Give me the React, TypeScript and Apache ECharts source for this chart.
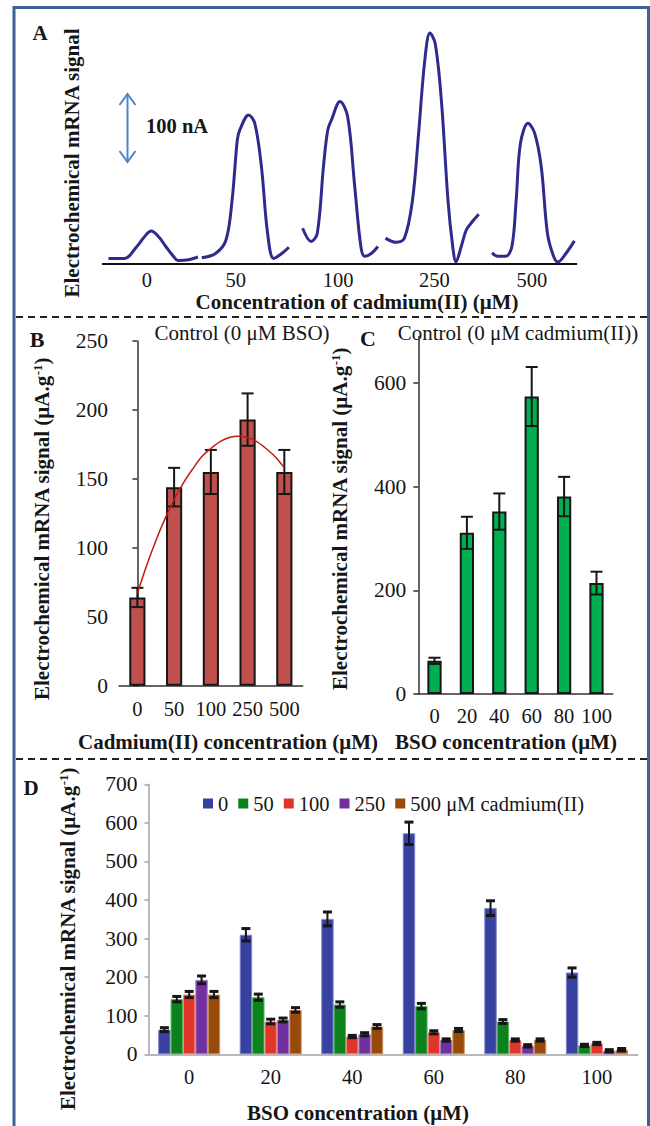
import React, { useEffect, useRef } from "react";
import * as echarts from "echarts";

const FONT = "'Liberation Serif', 'Times New Roman', Times, serif";
const INK = "#161616";

// ---------- Panel A: voltammetric peaks (x: potential, arbitrary 0-100; y: nA) ----------
const aCategories = ["0", "50", "100", "250", "500"];
const aLabelPositions = [9.3, 28.1, 49.7, 70.0, 90.6];
const aSeg0 = [[1.2, 7], [4.6, 7], [7.2, 24], [8.8, 38], [10.2, 46], [11.8, 38], [13.3, 24], [14.9, 10], [15.9, 4], [18.1, 5], [20.1, 9]];
const aSeg50 = [[20.9, 8], [23.8, 14], [26.0, 33], [27.3, 90], [28.4, 176], [28.9, 190], [30.8, 212], [32.1, 200], [33.5, 138], [34.8, 43], [36.1, 7], [37.8, 14], [39.3, 23]];
const aSeg100 = [[42.2, 50], [44.0, 31], [45.3, 43], [46.6, 138], [47.5, 190], [48.3, 205], [50.1, 231], [51.7, 210], [53.2, 110], [54.5, 24], [55.3, 10], [56.7, 14], [58.1, 24]];
const aSeg250 = [[59.7, 36], [61.9, 30], [63.7, 36], [65.4, 90], [66.7, 186], [68.0, 290], [69.1, 329], [70.2, 314], [71.5, 233], [72.9, 90], [73.9, 24], [74.6, 2], [75.7, 24], [76.8, 48], [78.1, 60], [79.4, 70]];
const aSeg500 = [[82.2, 15], [83.4, 10], [85.1, 10], [86.4, 24], [87.3, 90], [88.2, 171], [89.8, 200], [91.2, 186], [92.6, 138], [93.9, 43], [95.2, 10], [96.1, 2], [97.8, 14], [99.6, 32]];

// ---------- Panel B ----------
const bCategories = ["0", "50", "100", "250", "500"];
const bValues = [64, 144, 155, 193, 155];
const bErrors = [7, 14, 16, 19, 16];
const bTrendX = [0, 0.25, 0.5, 0.75, 1, 1.25, 1.5, 1.75, 2, 2.25, 2.5, 2.75, 3, 3.25, 3.5, 3.75, 4];
const bTrendY = [67, 87, 105, 121, 135, 147, 157, 166, 172, 177, 180, 181, 180, 177, 172, 166, 158];

// ---------- Panel C ----------
const cCategories = ["0", "20", "40", "60", "80", "100"];
const cValues = [64, 311, 352, 574, 381, 214];
const cErrors = [6, 31, 35, 57, 38, 22];
const cTicks = [0, 200, 400, 600];

// ---------- Panel D ----------
const dCategories = ["0", "20", "40", "60", "80", "100"];
const dSeriesNames = ["0", "50", "100", "250", "500 μM cadmium(II)"];
const dCd0 = [64, 310, 351, 573, 379, 212];
const dCd0Err = [5, 16, 18, 29, 19, 12];
const dCd50 = [143, 148, 129, 125, 85, 23];
const dCd50Err = [7, 8, 7, 7, 5, 3];
const dCd100 = [155, 85, 46, 57, 37, 28];
const dCd100Err = [8, 6, 3, 4, 3, 3];
const dCd250 = [193, 89, 52, 37, 22, 9];
const dCd250Err = [10, 5, 4, 3, 3, 3];
const dCd500 = [155, 115, 72, 63, 37, 12];
const dCd500Err = [8, 6, 5, 4, 3, 3];

const dColors = ["#3641a0", "#0b821b", "#e0362a", "#7030a0", "#974a0a"];
const dBorders = ["#7c83c8", "#5cae66", "#f08a80", "#a57cc6", "#c8915e"];

function errorBars(xAxisIndex: number, yAxisIndex: number, values: number[], errs: number[], slot: number, nSlots: number, groupFrac: number, capW: number, capLW: number, stemLW: number) {
  return {
    type: "custom",
    xAxisIndex,
    yAxisIndex,
    z: 10,
    silent: true,
    encode: { x: 0, y: [1, 2] },
    data: values.map((v, i) => [i, v - errs[i], v + errs[i]]),
    renderItem: (params: any, api: any) => {
      const i = api.value(0);
      const lo = api.coord([i, api.value(1)]);
      const hi = api.coord([i, api.value(2)]);
      const band = api.size([1, 0])[0];
      const bw = (band * groupFrac) / nSlots;
      const cx = lo[0] + (slot - (nSlots - 1) / 2) * bw;
      const st = { stroke: INK, lineWidth: stemLW };
      const cs = { stroke: INK, lineWidth: capLW };
      return {
        type: "group",
        children: [
          { type: "line", shape: { x1: cx, y1: lo[1], x2: cx, y2: hi[1] }, style: st },
          { type: "line", shape: { x1: cx - capW / 2, y1: lo[1], x2: cx + capW / 2, y2: lo[1] }, style: cs },
          { type: "line", shape: { x1: cx - capW / 2, y1: hi[1], x2: cx + capW / 2, y2: hi[1] }, style: cs },
        ],
      };
    },
  };
}

const tickLabel = { fontFamily: FONT, fontSize: 20.5, color: INK };
const yTickLabel = { fontFamily: FONT, fontSize: 21.5, color: INK };
const TITLE = `bold 21px ${FONT}`;

export default function App() {
  const ref = useRef<HTMLDivElement>(null);

  useEffect(() => {
    if (!ref.current) return;
    const chart = echarts.init(ref.current, undefined, { renderer: "svg" });

    const aSegs = [aSeg0, aSeg50, aSeg100, aSeg250, aSeg500];
    const dVals = [dCd0, dCd50, dCd100, dCd250, dCd500];
    const dErrs = [dCd0Err, dCd50Err, dCd100Err, dCd250Err, dCd500Err];

    const yTitleRich = {
      sup: { fontSize: 13, fontWeight: "bold", fontFamily: FONT, fill: INK, padding: [0, 0, 10, 0] },
    };

    const option: any = {
      animation: false,
      backgroundColor: "#ffffff",
      grid: [
        { left: 102.8, top: 25.3, width: 473.5, height: 238, outerBoundsMode: "none" },
        { left: 119, top: 341, width: 183.7, height: 344.7, outerBoundsMode: "none" },
        { left: 418.3, top: 336.4, width: 194.4, height: 357.6, outerBoundsMode: "none" },
        { left: 148.4, top: 784.3, width: 489.2, height: 270, outerBoundsMode: "none" },
      ],
      legend: {
        data: dSeriesNames,
        left: 203,
        top: 793,
        padding: 0,
        itemWidth: 10,
        itemHeight: 10,
        itemGap: 10,
        icon: "rect",
        itemStyle: { borderWidth: 0 },
        textStyle: { fontFamily: FONT, fontSize: 20.5, color: INK, padding: [2, 0, 0, 0] },
      },
      xAxis: [
        {
          gridIndex: 0, type: "value", min: 0, max: 100,
          axisLine: { show: true, lineStyle: { color: "#111", width: 2 } },
          axisTick: { show: false },
          splitLine: { show: false },
          axisLabel: {
            ...tickLabel, margin: 6,
            customValues: aLabelPositions,
            formatter: (v: number) => {
              const k = aLabelPositions.indexOf(v);
              return k >= 0 ? aCategories[k] : "";
            },
          },
        },
        {
          gridIndex: 1, type: "category", data: bCategories,
          axisLine: { lineStyle: { color: "#333", width: 1.5 } },
          axisTick: { length: 5, lineStyle: { color: "#333", width: 1.5 } },
          axisLabel: { ...tickLabel, margin: 13, interval: 0 },
        },
        { gridIndex: 1, type: "value", min: -0.5, max: 4.5, show: false },
        {
          gridIndex: 2, type: "category", data: cCategories,
          axisLine: { lineStyle: { color: "#333", width: 1.5 } },
          axisTick: { length: 5, lineStyle: { color: "#333", width: 1.5 } },
          axisLabel: { ...tickLabel, margin: 11, interval: 0 },
        },
        {
          gridIndex: 3, type: "category", data: dCategories,
          axisLine: { lineStyle: { color: "#a3a3a3", width: 1.5 } },
          axisTick: { length: 6, lineStyle: { color: "#a3a3a3", width: 1.5 } },
          axisLabel: { ...tickLabel, margin: 12, interval: 0 },
        },
      ],
      yAxis: [
        { gridIndex: 0, type: "value", min: 0, max: 340, show: false },
        {
          gridIndex: 1, type: "value", min: 0, max: 250, interval: 50,
          axisLine: { show: true, lineStyle: { color: "#333", width: 1.5 } },
          axisTick: { show: true, length: 5, lineStyle: { color: "#333", width: 1.5 } },
          splitLine: { show: false },
          axisLabel: { ...yTickLabel, margin: 11 },
        },
        {
          gridIndex: 2, type: "value", min: 0, max: 690,
          axisLine: { show: true, lineStyle: { color: "#333", width: 1.5 } },
          axisTick: { show: true, length: 5, customValues: cTicks, lineStyle: { color: "#333", width: 1.5 } },
          splitLine: { show: false },
          axisLabel: { ...yTickLabel, margin: 12, customValues: cTicks },
        },
        {
          gridIndex: 3, type: "value", min: 0, max: 700, interval: 100,
          axisLine: { show: true, lineStyle: { color: "#a3a3a3", width: 1.5 } },
          axisTick: { show: true, length: 4, lineStyle: { color: "#a3a3a3", width: 1.5 } },
          splitLine: { show: false },
          axisLabel: { ...yTickLabel, margin: 11 },
        },
      ],
      series: [
        ...aSegs.map((seg, k) => ({
          name: "A" + k,
          type: "line", xAxisIndex: 0, yAxisIndex: 0,
          data: seg, smooth: 0.35, showSymbol: false, silent: true,
          lineStyle: { color: "#2f2b8d", width: 3 },
        })),
        {
          name: "B", type: "bar", xAxisIndex: 1, yAxisIndex: 1, data: bValues, barWidth: "44%",
          itemStyle: { color: "#c0504d", borderColor: INK, borderWidth: 2 },
        },
        errorBars(1, 1, bValues, bErrors, 0, 1, 0.44, 12, 2, 2),
        {
          name: "Btrend", type: "line", xAxisIndex: 2, yAxisIndex: 1, z: 12,
          data: bTrendX.map((x, i) => [x, bTrendY[i]]), smooth: 0.3, showSymbol: false, silent: true,
          lineStyle: { color: "#c41a10", width: 1.5 },
        },
        {
          name: "C", type: "bar", xAxisIndex: 3, yAxisIndex: 2, data: cValues, barWidth: "44%",
          itemStyle: { color: "#00b050", borderColor: INK, borderWidth: 2 },
        },
        errorBars(3, 2, cValues, cErrors, 0, 1, 0.44, 12, 2, 2),
        ...dSeriesNames.map((n, k) => ({
          name: n, type: "bar", xAxisIndex: 4, yAxisIndex: 3, data: dVals[k],
          barGap: "0%", barCategoryGap: "24%",
          itemStyle: { color: dColors[k], borderColor: dBorders[k], borderWidth: 1 },
        })),
        ...dSeriesNames.map((n, k) => errorBars(4, 3, dVals[k], dErrs[k], k, 5, 0.76, 9, 3, 2)),
      ],
      graphic: [
        { type: "rect", shape: { x: 14, y: 7.5, width: 634.5, height: 1140 }, style: { stroke: "#3d6296", lineWidth: 3, fill: "transparent" }, silent: true },
        { type: "line", shape: { x1: 16, y1: 317, x2: 647, y2: 317 }, style: { stroke: "#222", lineWidth: 2, lineDash: [7, 5] }, silent: true },
        { type: "line", shape: { x1: 16, y1: 759, x2: 647, y2: 759 }, style: { stroke: "#222", lineWidth: 2, lineDash: [7, 5] }, silent: true },
        // panel letters
        { type: "text", x: 40, y: 33, style: { text: "A", font: `bold 21px ${FONT}`, fill: INK, align: "center", verticalAlign: "middle" } },
        { type: "text", x: 37, y: 339, style: { text: "B", font: `bold 22px ${FONT}`, fill: INK, align: "center", verticalAlign: "middle" } },
        { type: "text", x: 368, y: 338, style: { text: "C", font: `bold 22px ${FONT}`, fill: INK, align: "center", verticalAlign: "middle" } },
        { type: "text", x: 31, y: 788, style: { text: "D", font: `bold 21px ${FONT}`, fill: INK, align: "center", verticalAlign: "middle" } },
        // A scale arrow
        { type: "line", shape: { x1: 127.5, y1: 94, x2: 127.5, y2: 162 }, style: { stroke: "#4a86c5", lineWidth: 2 } },
        { type: "polyline", shape: { points: [[119.5, 105], [127.5, 94], [135.5, 105]] }, style: { stroke: "#4a86c5", lineWidth: 2, fill: "transparent" } },
        { type: "polyline", shape: { points: [[119.5, 151], [127.5, 162], [135.5, 151]] }, style: { stroke: "#4a86c5", lineWidth: 2, fill: "transparent" } },
        { type: "text", x: 146, y: 126, style: { text: "100 nA", font: `bold 20.5px ${FONT}`, fill: INK, align: "left", verticalAlign: "middle" } },
        // axis titles
        { type: "text", x: 72, y: 163, rotation: Math.PI / 2, style: { text: "Electrochemical mRNA signal", font: TITLE, fill: INK, align: "center", verticalAlign: "middle" } },
        { type: "text", x: 357, y: 302, style: { text: "Concentration of cadmium(II) (μM)", font: TITLE, fill: INK, align: "center", verticalAlign: "middle" } },
        { type: "text", x: 42, y: 529, rotation: Math.PI / 2, style: { text: "Electrochemical mRNA signal (μA.g{sup|-1})", rich: yTitleRich, font: TITLE, fill: INK, align: "center", verticalAlign: "middle" } },
        { type: "text", x: 340, y: 519, rotation: Math.PI / 2, style: { text: "Electrochemical mRNA signal (μA.g{sup|-1})", rich: yTitleRich, font: TITLE, fill: INK, align: "center", verticalAlign: "middle" } },
        { type: "text", x: 68, y: 939, rotation: Math.PI / 2, style: { text: "Electrochemical mRNA signal (μA.g{sup|-1})", rich: yTitleRich, font: TITLE, fill: INK, align: "center", verticalAlign: "middle" } },
        { type: "text", x: 228, y: 742, style: { text: "Cadmium(II) concentration (μM)", font: TITLE, fill: INK, align: "center", verticalAlign: "middle" } },
        { type: "text", x: 506, y: 742, style: { text: "BSO concentration (μM)", font: TITLE, fill: INK, align: "center", verticalAlign: "middle" } },
        { type: "text", x: 358, y: 1113, style: { text: "BSO concentration (μM)", font: TITLE, fill: INK, align: "center", verticalAlign: "middle" } },
        // panel subtitles
        { type: "text", x: 242, y: 333, style: { text: "Control (0 μM BSO)", font: `21px ${FONT}`, fill: INK, align: "center", verticalAlign: "middle" } },
        { type: "text", x: 518, y: 333, style: { text: "Control (0 μM cadmium(II))", font: `21px ${FONT}`, fill: INK, align: "center", verticalAlign: "middle" } },
      ],
    };

    chart.setOption(option);
    return () => chart.dispose();
  }, []);

  return (
    <div
      ref={ref}
      style={{ position: "absolute", left: 0, top: 0, width: 650, height: 1126, background: "#fff" }}
    />
  );
}
